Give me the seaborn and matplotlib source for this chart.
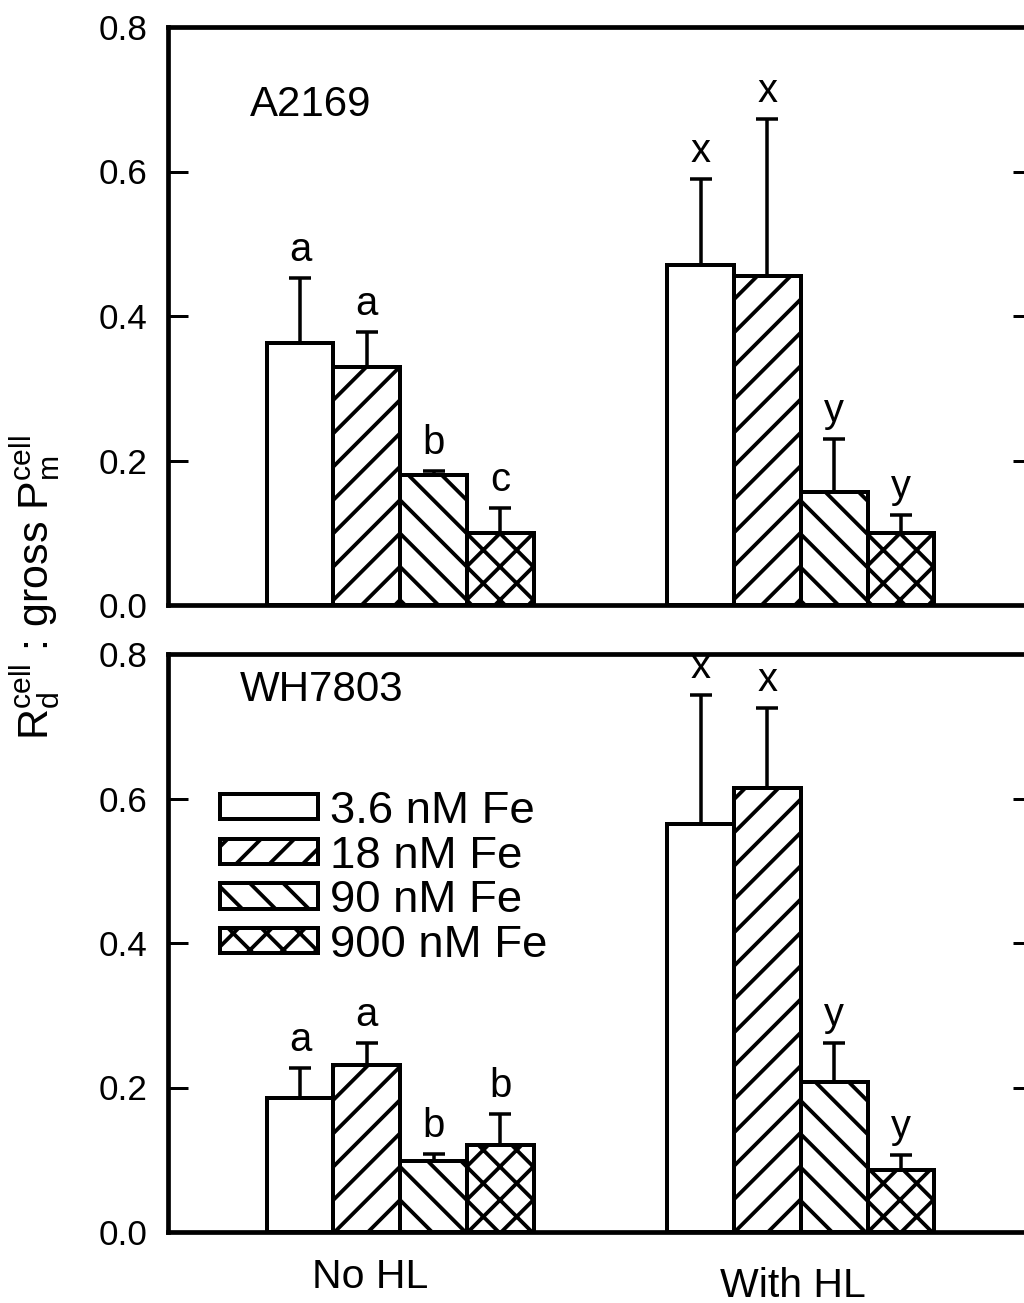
import numpy as np
import pandas as pd
import matplotlib
matplotlib.use("Agg")
import matplotlib.pyplot as plt
import matplotlib.transforms as mtransforms
import seaborn as sns

# ---------------- data ----------------
groups = ["No HL", "With HL"]
fe_levels = ["3.6 nM Fe", "18 nM Fe", "90 nM Fe", "900 nM Fe"]

# A2169 (top panel): values per Fe level, [No HL, With HL]
a2169_vals = [[0.363, 0.470], [0.330, 0.455], [0.180, 0.157], [0.099, 0.099]]
a2169_errs = [[0.090, 0.120], [0.048, 0.218], [0.005, 0.073], [0.035, 0.025]]
a2169_letters = [["a", "x"], ["a", "x"], ["b", "y"], ["c", "y"]]

# WH7803 (bottom panel)
wh7803_vals = [[0.186, 0.565], [0.231, 0.615], [0.098, 0.208], [0.121, 0.086]]
wh7803_errs = [[0.041, 0.178], [0.030, 0.110], [0.010, 0.054], [0.042, 0.020]]
wh7803_letters = [["a", "x"], ["a", "x"], ["b", "y"], ["b", "y"]]

hatches = ["", "//", "\\\\", "xx"]
y_ticks = [0.0, 0.2, 0.4, 0.6, 0.8]

# ---------------- style ----------------
DPI = 200
PT = 72.0 / DPI  # points per pixel

sns.set_theme(style="white")
plt.rcParams["font.family"] = ["Liberation Sans", "DejaVu Sans"]
plt.rcParams["mathtext.fontset"] = "custom"
plt.rcParams["mathtext.rm"] = "Liberation Sans"
plt.rcParams["mathtext.it"] = "Liberation Sans:italic"
plt.rcParams["hatch.linewidth"] = 3.8 * PT
plt.rcParams["hatch.color"] = "black"
for k in ["text.color", "axes.labelcolor", "xtick.color", "ytick.color", "axes.edgecolor"]:
    plt.rcParams[k] = "black"

W, H = 1024, 1303
fig = plt.figure(figsize=(W / DPI, H / DPI), dpi=DPI)

left = 168 / W
width = 865 / W
ax_h = 578 / H
ax_top = fig.add_axes([left, (H - 605) / H, width, ax_h])
ax_bot = fig.add_axes([left, (H - 1232) / H, width, ax_h])


def make_df(vals):
    rows = []
    for fi, fe in enumerate(fe_levels):
        for gi, g in enumerate(groups):
            rows.append({"group": g, "fe": fe, "value": vals[fi][gi]})
    return pd.DataFrame(rows)


def draw_panel(ax, vals, errs, letters, title, title_xy):
    df = make_df(vals)
    sns.barplot(data=df, x="group", y="value", hue="fe", order=groups,
                hue_order=fe_levels, width=0.667, errorbar=None,
                palette=["white"] * 4, edgecolor="black", linewidth=4.0 * PT,
                saturation=1, legend=False, ax=ax)
    for cont, hatch, e_row, l_row in zip(ax.containers, hatches, errs, letters):
        xs, ys = [], []
        for bar in cont:
            bar.set_hatch(hatch)
            bar.set_facecolor("white")
            bar.set_edgecolor("black")
            xs.append(bar.get_x() + bar.get_width() / 2)
            ys.append(bar.get_height())
        ax.errorbar(xs, ys, yerr=[np.zeros(len(e_row)), e_row], fmt="none",
                    ecolor="black", elinewidth=3.5 * PT, capsize=11 * PT,
                    capthick=3.5 * PT, zorder=3)
        for x, y, e, lab in zip(xs, ys, e_row, l_row):
            ax.annotate(lab, (x, y + e), xytext=(0, 9 * PT), textcoords="offset points",
                        ha="center", va="bottom", fontsize=40 * PT)
    ax.set_xlim(-0.58, 1.58)
    ax.set_ylim(0, 0.8)
    ax.set_yticks(y_ticks)
    ax.set_yticklabels([f"{v:.1f}" for v in y_ticks])
    ax.set_xlabel("")
    ax.set_ylabel("")
    ax.tick_params(axis="y", which="both", direction="in", left=True, right=True,
                   length=20 * PT, width=3.0 * PT, labelsize=35 * PT, pad=21 * PT,
                   colors="black")
    ax.tick_params(axis="x", length=0, labelsize=41 * PT, pad=26 * PT, colors="black")
    for sp in ax.spines.values():
        sp.set_visible(True)
        sp.set_linewidth(4.7 * PT)
        sp.set_color("black")
    ax.text(title_xy[0], title_xy[1], title, transform=ax.transAxes,
            fontsize=42 * PT, ha="left", va="center")


draw_panel(ax_top, a2169_vals, a2169_errs, a2169_letters, "A2169", (0.095, 0.865))
draw_panel(ax_bot, wh7803_vals, wh7803_errs, wh7803_letters, "WH7803", (0.083, 0.938))

ax_top.set_xticklabels([])

# category labels sit slightly off the group centres in the reference
labels = ax_bot.get_xticklabels()
shifts_px = [(-30, 0), (-8, -9)]
for lab, (dx, dy) in zip(labels, shifts_px):
    off = mtransforms.ScaledTranslation(dx / DPI, dy / DPI, fig.dpi_scale_trans)
    lab.set_transform(lab.get_transform() + off)

leg_fs = 45.5 * PT
ax_bot.legend(handles=list(ax_bot.containers), labels=fe_levels,
              loc="upper left", bbox_to_anchor=(0.060, 0.763),
              frameon=False, fontsize=leg_fs, handlelength=2.15,
              handleheight=0.48, handletextpad=0.26, labelspacing=0.08,
              borderpad=0, borderaxespad=0)

fig.text(0.034, 0.549,
         r"R$_\mathregular{d}^\mathregular{cell}$ : gross P$_\mathregular{m}^\mathregular{cell}$",
         rotation=90, ha="center", va="center", fontsize=43 * PT)

fig.savefig("out.png", dpi=DPI, facecolor="white")
